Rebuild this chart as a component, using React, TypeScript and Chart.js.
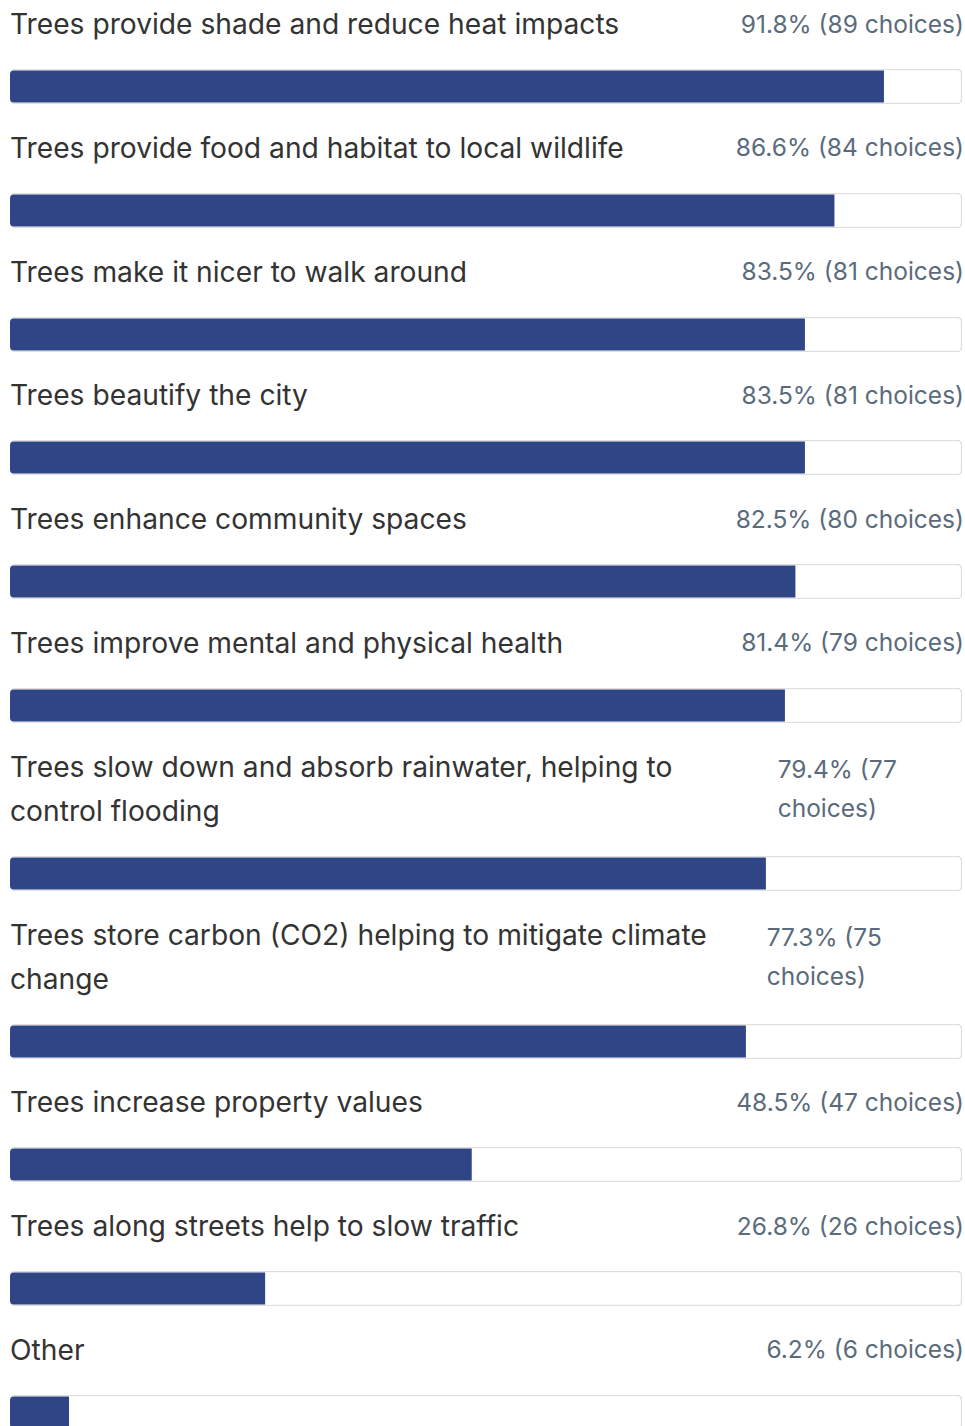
import React, { useEffect, useRef } from "react";
import { Chart, registerables } from "chart.js";

Chart.register(...registerables);

const categories = [
  "Trees provide shade and reduce heat impacts",
  "Trees provide food and habitat to local wildlife",
  "Trees make it nicer to walk around",
  "Trees beautify the city",
  "Trees enhance community spaces",
  "Trees improve mental and physical health",
  "Trees slow down and absorb rainwater, helping to control flooding",
  "Trees store carbon (CO2) helping to mitigate climate change",
  "Trees increase property values",
  "Trees along streets help to slow traffic",
  "Other",
];
const percents = [91.8, 86.6, 83.5, 83.5, 82.5, 81.4, 79.4, 77.3, 48.5, 26.8, 6.2];
const counts = [89, 84, 81, 81, 80, 79, 77, 75, 47, 26, 6];
const trackMax = 100;

const FILL = "#2f4586";
const TRACK_BORDER = "#dfdfdf";

function ProgressBar({ value }: { value: number }) {
  const ref = useRef<HTMLCanvasElement | null>(null);
  useEffect(() => {
    if (!ref.current) return;
    const chart = new Chart(ref.current, {
      type: "bar",
      data: {
        labels: [""],
        datasets: [
          {
            data: [value],
            backgroundColor: FILL,
            borderWidth: 0,
            borderRadius: { topLeft: 4, bottomLeft: 4, topRight: 0, bottomRight: 0 },
            borderSkipped: false,
            barPercentage: 0.92,
            categoryPercentage: 1,
            grouped: false,
            order: 0,
          } as any,
          {
            data: [trackMax],
            backgroundColor: "#ffffff",
            borderColor: TRACK_BORDER,
            borderWidth: 1.5,
            borderRadius: 5,
            borderSkipped: false,
            barPercentage: 1,
            categoryPercentage: 1,
            grouped: false,
            order: 1,
          } as any,
        ],
      },
      options: {
        indexAxis: "y",
        responsive: true,
        maintainAspectRatio: false,
        animation: false,
        events: [],
        layout: { padding: 0 },
        plugins: { legend: { display: false }, tooltip: { enabled: false } },
        scales: {
          x: { display: false, min: 0, max: trackMax },
          y: { display: false },
        },
      },
    });
    return () => chart.destroy();
  }, [value]);
  return (
    <div style={{ position: "relative", width: "100%", height: 35 }}>
      <canvas ref={ref} />
    </div>
  );
}

export default function App() {
  return (
    <>
      <style>{"body{margin:0;background:#fff;}"}</style>
      <div
        style={{
          position: "absolute",
          left: 10,
          top: 2,
          width: 952,
          fontFamily: "Inter, 'Noto Sans', sans-serif",
        }}
      >
        {categories.map((cat, i) => (
          <div key={cat} style={{ marginBottom: 21.8 }}>
            <div
              style={{
                display: "flex",
                alignItems: "center",
                justifyContent: "space-between",
                gap: 40,
              }}
            >
              <div
                style={{
                  fontSize: 28.2,
                  lineHeight: "44px",
                  color: "#333333",
                  flex: "1 1 auto",
                }}
              >
                {cat}
              </div>
              <div
                style={{
                  fontSize: 24.5,
                  lineHeight: "39px",
                  color: "#5a6b7c",
                  flex: "0 1 auto",
                  marginRight: -2,
                }}
              >
                {`${percents[i]}% (${counts[i]} choices)`}
              </div>
            </div>
            <div style={{ marginTop: 23 }}>
              <ProgressBar value={percents[i]} />
            </div>
          </div>
        ))}
      </div>
    </>
  );
}
